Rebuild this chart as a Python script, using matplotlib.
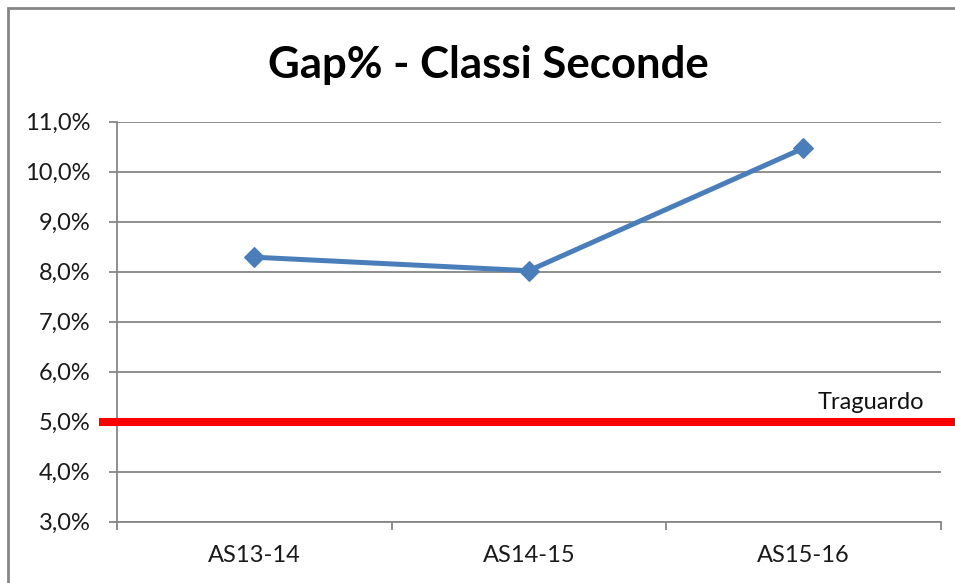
import matplotlib.pyplot as plt
from matplotlib.patches import Rectangle
from matplotlib.ticker import FuncFormatter, FixedLocator

# data
anni = ['AS13-14', 'AS14-15', 'AS15-16']
gap = [8.29, 8.02, 10.47]
traguardo = 5.0
y_ticks = [3, 4, 5, 6, 7, 8, 9, 10, 11]

plt.rcParams['font.family'] = ['Lato', 'DejaVu Sans']

fig = plt.figure(figsize=(9.55, 5.83), dpi=100)
ax = fig.add_axes([0.1225, 0.1051, 0.8625, 0.6862])

grey = '#868686'
x = list(range(len(anni)))

ax.plot(x, gap, color='#4a7ebb', lw=3.6, marker='D', ms=10.5,
        markeredgewidth=0.8, markeredgecolor='#4a7ebb', zorder=4)

# target line, runs a little past the plot area like the original
ax.axhline(traguardo, xmin=-0.022, xmax=1.03, color='#ff0000', lw=5.8,
           solid_capstyle='butt', clip_on=False, zorder=3)
ax.text(0.98, traguardo + 0.17, 'Traguardo', transform=ax.get_yaxis_transform(),
        ha='right', va='bottom', fontsize=17, color='#111111')

ax.set_xlim(-0.5, 2.5)
ax.set_ylim(3, 11)
ax.set_yticks(y_ticks)
ax.yaxis.set_major_formatter(FuncFormatter(lambda v, p: f'{v:.1f}%'.replace('.', ',')))
ax.set_xticks(x)
ax.set_xticklabels(anni)
ax.xaxis.set_minor_locator(FixedLocator([-0.5, 0.5, 1.5, 2.5]))

ax.grid(axis='y', color=grey, lw=1.3)
ax.set_axisbelow(True)
for s in ['top', 'right']:
    ax.spines[s].set_visible(False)
for s in ['left', 'bottom']:
    ax.spines[s].set_color(grey)
    ax.spines[s].set_linewidth(1.3)

ax.tick_params(axis='y', length=6, width=1.3, color=grey, pad=13,
               labelsize=17, labelcolor='#1a1a1a')
ax.tick_params(axis='x', which='major', length=0, pad=17,
               labelsize=17, labelcolor='#1a1a1a')
ax.tick_params(axis='x', which='minor', length=6, width=1.3, color=grey)

fig.text(0.511, 0.866, 'Gap% - Classi Seconde', ha='center', va='baseline',
         fontsize=31.5, fontweight='bold', color='black')

# chart frame (only left and top edges visible in the crop)
fig.patches.append(Rectangle((8 / 955, -0.05), 1.2, (583 - 8) / 583 + 0.05,
                             transform=fig.transFigure, fill=False,
                             edgecolor=grey, lw=2))

fig.savefig('out.png', dpi=100)
